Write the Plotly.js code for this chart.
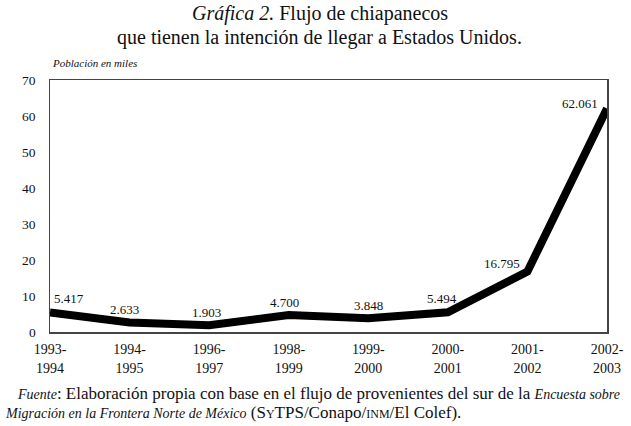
<!DOCTYPE html>
<html><head><meta charset="utf-8">
<script src="https://cdn.plot.ly/plotly-3.0.1.min.js"></script>
<style>body{margin:0;background:#fff}#c{width:631px;height:426px}</style>
</head><body><div id="c"></div>
<script>
var periods = ["1993-<br>1994","1994-<br>1995","1996-<br>1997","1998-<br>1999","1999-<br>2000","2000-<br>2001","2001-<br>2002","2002-<br>2003"];
var values = [5.417, 2.633, 1.903, 4.700, 3.848, 5.494, 16.795, 62.061];
var valueLabels = ["5.417","2.633","1.903","4.700","3.848","5.494","16.795","62.061"];
var yTickVals = [0, 10, 20, 30, 40, 50, 60, 70];
var titleLines = ["<i>Gráfica 2.</i> Flujo de chiapanecos", "que tienen la intención de llegar a Estados Unidos."];
var sourceLines = ["<i><span style=\"font-size:14px\">Fuente</span></i>: Elaboración propia con base en el flujo de provenientes del sur de la <i><span style=\"font-size:14px\">Encuesta sobre</span></i>",
  "<i><span style=\"font-size:14px\">Migración en la Frontera Norte de México</span></i> (S<span style=\"font-size:12px\">Y</span>TPS/Conapo/<span style=\"font-size:12px\">INM</span>/El Colef)."];
var labelShiftX = [19, -5, -3, -4, 0, -6, -25, -27];
var labelShiftY = [14, 13, 13, 13, 13, 14, 8, 5];

var F = "'Liberation Serif', 'DejaVu Serif', serif";
var idx = values.map(function(v,i){return i;});
var anns = values.map(function(v,i){
  return {x:i, y:v, xref:'x', yref:'y', text:valueLabels[i], showarrow:false,
    xshift:labelShiftX[i], yshift:labelShiftY[i], font:{family:F,size:13,color:'#111'}};
});
anns.push({xref:'paper', yref:'paper', x:0, y:1, yshift:9, xanchor:'left', yanchor:'bottom', showarrow:false,
  text:'<i>Población en miles</i>', font:{family:F,size:11,color:'#111'}});
anns.push({xref:'paper', yref:'paper', x:0.484, y:1.262, xanchor:'center', yanchor:'middle', showarrow:false,
  text:titleLines[0], font:{family:F,size:20,color:'#111'}});
anns.push({xref:'paper', yref:'paper', x:0.484, y:1.167, xanchor:'center', yanchor:'middle', showarrow:false,
  text:titleLines[1], font:{family:F,size:20,color:'#111'}});
anns.push({xref:'paper', yref:'paper', x:-0.062, y:-0.246, xanchor:'left', yanchor:'middle', showarrow:false, align:'left',
  text:sourceLines[0], font:{family:F,size:17,color:'#111'}});
anns.push({xref:'paper', yref:'paper', x:-0.085, y:-0.321, xanchor:'left', yanchor:'middle', showarrow:false, align:'left',
  text:sourceLines[1], font:{family:F,size:17,color:'#111'}});
// y tick labels drawn as annotations placed via the y axis scale
yTickVals.forEach(function(v){
  anns.push({xref:'paper', yref:'y', x:0, y:v, xshift:-12, xanchor:'right', yanchor:'middle', showarrow:false,
    text:String(v), font:{family:F,size:13.5,color:'#111'}});
});

Plotly.newPlot('c', [{
  x: idx, y: values, type:'scatter', mode:'lines',
  line:{color:'#000', width:8}, hoverinfo:'skip'
}], {
  width:631, height:426,
  margin:{l:50, r:24, t:80, b:94},
  paper_bgcolor:'#fff', plot_bgcolor:'#fff',
  font:{family:F, color:'#111'},
  showlegend:false,
  xaxis:{range:[0,7], tickmode:'array', tickvals:idx, ticktext:periods,
    showgrid:false, zeroline:false, showline:true, mirror:true, linecolor:'#444', linewidth:1.5,
    ticks:'outside', ticklen:4, tickcolor:'rgba(0,0,0,0)', tickfont:{family:F, size:14, color:'#111'}},
  yaxis:{range:[0,70], tickvals:yTickVals, showticklabels:false, showgrid:false, zeroline:false, showline:true, mirror:true,
    linecolor:'#444', linewidth:1.5, ticks:''},
  annotations: anns
}, {staticPlot:true});
</script></body></html>
